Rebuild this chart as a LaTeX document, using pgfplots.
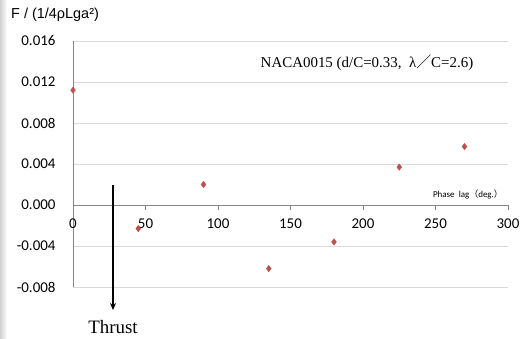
\documentclass[border=0pt]{standalone}
\usepackage{pgfplots}
\pgfplotsset{compat=1.18}
\usetikzlibrary{arrows.meta}
\usepackage{fontspec}
\setmainfont{Carlito}
\newfontfamily\arialf{Liberation Sans}
\newfontfamily\tnr{Liberation Serif}
\newfontfamily\cjk{Noto Sans CJK JP}
\definecolor{ptred}{HTML}{C0504D}
\definecolor{axgray}{HTML}{868686}
\definecolor{grd}{HTML}{D9D9D9}
\begin{document}
\begin{tikzpicture}[x=1bp,y=1bp]
\path[use as bounding box] (0,0) rectangle (532,338);
\shade[left color=black!18, right color=white] (0,0) rectangle (7,338);
\begin{axis}[
  at={(73bp,51bp)}, anchor=south west,
  scale only axis, width=435bp, height=246bp,
  xmin=0, xmax=300, ymin=-0.008, ymax=0.016,
  axis x line=middle, axis y line=left,
  hide obscured x ticks=false,
  axis line style={axgray, -},
  xtick={0,50,...,300},
  ytick={-0.008,-0.004,0,0.004,0.008,0.012,0.016},
  ymajorgrids, grid style={grd},
  tick align=outside, major tick length=5bp,
  xtick style={axgray}, ytick style={draw=none},
  /pgf/number format/assume math mode=true,
  yticklabel style={/pgf/number format/fixed, /pgf/number format/precision=3, /pgf/number format/fixed zerofill, font=\fontsize{15}{17}\selectfont, xshift=-9bp},
  xticklabel style={font=\fontsize{15}{17}\selectfont, yshift=-5bp},
  scaled y ticks=false,
  clip=false,
]
\addplot[only marks, mark=diamond*, mark size=3.2bp, color=ptred] coordinates {
 (0,0.0112) (45,-0.0023) (90,0.0020) (135,-0.0062) (180,-0.0036) (225,0.0037) (270,0.0057)
};
\end{axis}
\node[anchor=west, inner sep=0] at (11,323) {\arialf\fontsize{14.5}{16}\selectfont F / (1/4ρLga²)};
\node[inner sep=0] at (367,275) {\tnr\fontsize{15}{17}\selectfont NACA0015 (d/C=0.33,\ \ λ{\cjk ／}C=2.6)};
\node[inner sep=0] at (468,144) {\fontsize{9}{10}\selectfont Phase\ \ lag{\cjk （}deg.{\cjk ）}};
\draw[line width=1.6bp, -{Stealth[length=7bp,width=6bp]}] (113,153) -- (113,28);
\node[inner sep=0] at (113,11) {\tnr\fontsize{19}{21}\selectfont Thrust};
\end{tikzpicture}
\end{document}
